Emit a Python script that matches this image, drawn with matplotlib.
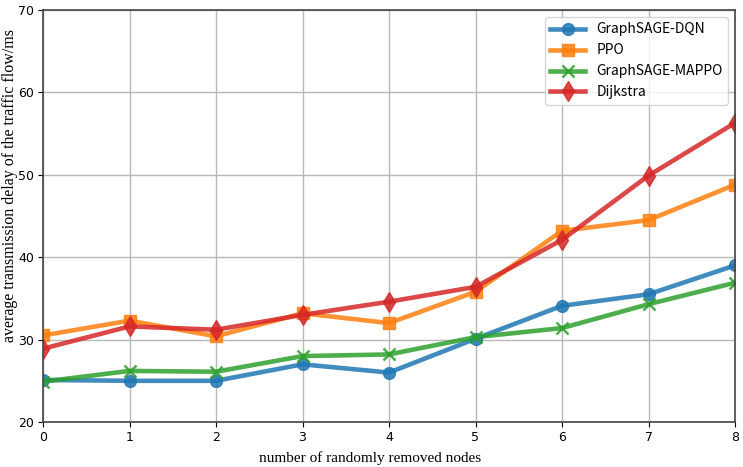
import numpy as np
import matplotlib.pyplot as plt

# Data
removed_nodes = [0, 1, 2, 3, 4, 5, 6, 7, 8]
dqn = [25.1, 25.0, 25.0, 27.0, 26.0, 30.1, 34.1, 35.5, 39.0]
ppo = [30.5, 32.3, 30.4, 33.2, 32.0, 35.8, 43.2, 44.5, 48.8]
mappo = [24.9, 26.2, 26.1, 28.0, 28.2, 30.3, 31.4, 34.3, 36.9]
dijkstra = [28.9, 31.6, 31.2, 33.0, 34.6, 36.4, 42.1, 49.9, 56.3]

fig = plt.figure(figsize=(7.43, 4.67), dpi=100)
ax = fig.add_axes([43 / 743, 1 - 422 / 467, (735 - 43) / 743, (422 - 10) / 467])

ax.plot(removed_nodes, dqn, color='tab:blue', marker='o', markersize=8.5, linewidth=3.3, alpha=0.85, label='GraphSAGE-DQN')
ax.plot(removed_nodes, ppo, color='tab:orange', marker='s', markersize=8.5, linewidth=3.3, alpha=0.85, label='PPO')
ax.plot(removed_nodes, mappo, color='tab:green', marker='x', markersize=9, markeredgewidth=1.8, linewidth=3.3, alpha=0.85, label='GraphSAGE-MAPPO')
ax.plot(removed_nodes, dijkstra, color='tab:red', marker='d', markersize=10, linewidth=3.3, alpha=0.85, label='Dijkstra')

ax.set_xlim(0, 8)
ax.set_ylim(20, 70)
ax.set_xticks(removed_nodes)
ax.set_yticks([20, 30, 40, 50, 60, 70])
ax.grid(True, color='#b8b8b8', linewidth=1)
ax.tick_params(labelsize=9, pad=3)
for s in ax.spines.values():
    s.set_color('#444444')
    s.set_linewidth(1.2)

# axis titles placed as in the original figure
fig.text(370 / 743, 1 - 458 / 467, 'number of randomly removed nodes', family='Liberation Serif',
         fontsize=11, ha='center', va='center')
fig.text(10 / 743, 1 - 186 / 467, 'average transmission delay of the traffic flow/ms', family='Liberation Serif',
         fontsize=11.5, ha='center', va='center', rotation=90)

ax.legend(loc='upper right', prop={'family': 'Noto Sans CJK SC', 'size': 10}, handlelength=2.5)

plt.savefig('out.png', dpi=100)
